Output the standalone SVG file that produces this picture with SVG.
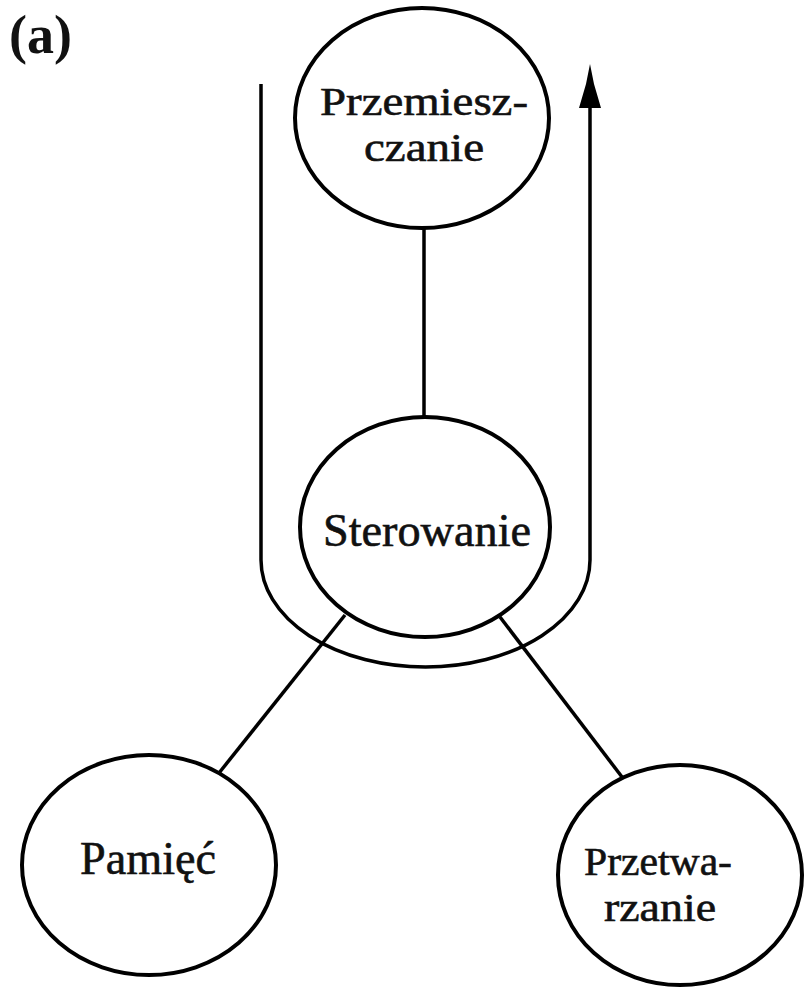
<svg xmlns="http://www.w3.org/2000/svg" width="805" height="987" viewBox="0 0 805 987">
  <style>
    .node { fill: none; stroke: #000; stroke-width: 4; }
    .link { fill: none; stroke: #000; stroke-width: 3.5; }
    .label { font-family: "Liberation Serif", "Times New Roman", serif; font-size: 46px; fill: #111; stroke: #111; stroke-width: 0.6; text-anchor: middle; }
    .label.two { font-size: 40px; }
    .tag { font-family: "Liberation Serif", "Times New Roman", serif; font-size: 54px; font-weight: bold; fill: #111; }
  </style>
  <rect width="805" height="987" fill="#fff"/>

  <text class="tag" x="9" y="53">(a)</text>

  <g id="connectors">
    <!-- U-shaped flow around the control node, arrow up on the right -->
    <path class="link" d="M261 84 L261 560 A164.5 107 0 0 0 590 560 L590 100"/>
    <path d="M590 64 L594 84 L601 108 L579 108 L586 84 Z" fill="#000"/>
    <line class="link" x1="424" y1="228" x2="424" y2="417"/>
    <line class="link" x1="345" y1="615" x2="219" y2="773"/>
    <line class="link" x1="500" y1="617" x2="622" y2="777"/>
  </g>

  <g id="przemieszczanie">
    <ellipse class="node" cx="422" cy="118" rx="127" ry="110"/>
    <text class="label two" x="424" y="115" textLength="208" lengthAdjust="spacingAndGlyphs">Przemiesz-</text>
    <text class="label two" x="424" y="161" textLength="120" lengthAdjust="spacingAndGlyphs">czanie</text>
  </g>

  <g id="sterowanie">
    <ellipse class="node" cx="425" cy="527" rx="125" ry="110"/>
    <text class="label" x="427" y="546" textLength="208" lengthAdjust="spacingAndGlyphs">Sterowanie</text>
  </g>

  <g id="pamiec">
    <ellipse class="node" cx="149" cy="865" rx="127" ry="110"/>
    <text class="label" x="148" y="874" textLength="136" lengthAdjust="spacingAndGlyphs">Pamięć</text>
  </g>

  <g id="przetwarzanie">
    <ellipse class="node" cx="680" cy="875" rx="122" ry="110"/>
    <text class="label two" x="658" y="875" textLength="148" lengthAdjust="spacingAndGlyphs">Przetwa-</text>
    <text class="label two" x="660" y="921" textLength="112" lengthAdjust="spacingAndGlyphs">rzanie</text>
  </g>
</svg>
